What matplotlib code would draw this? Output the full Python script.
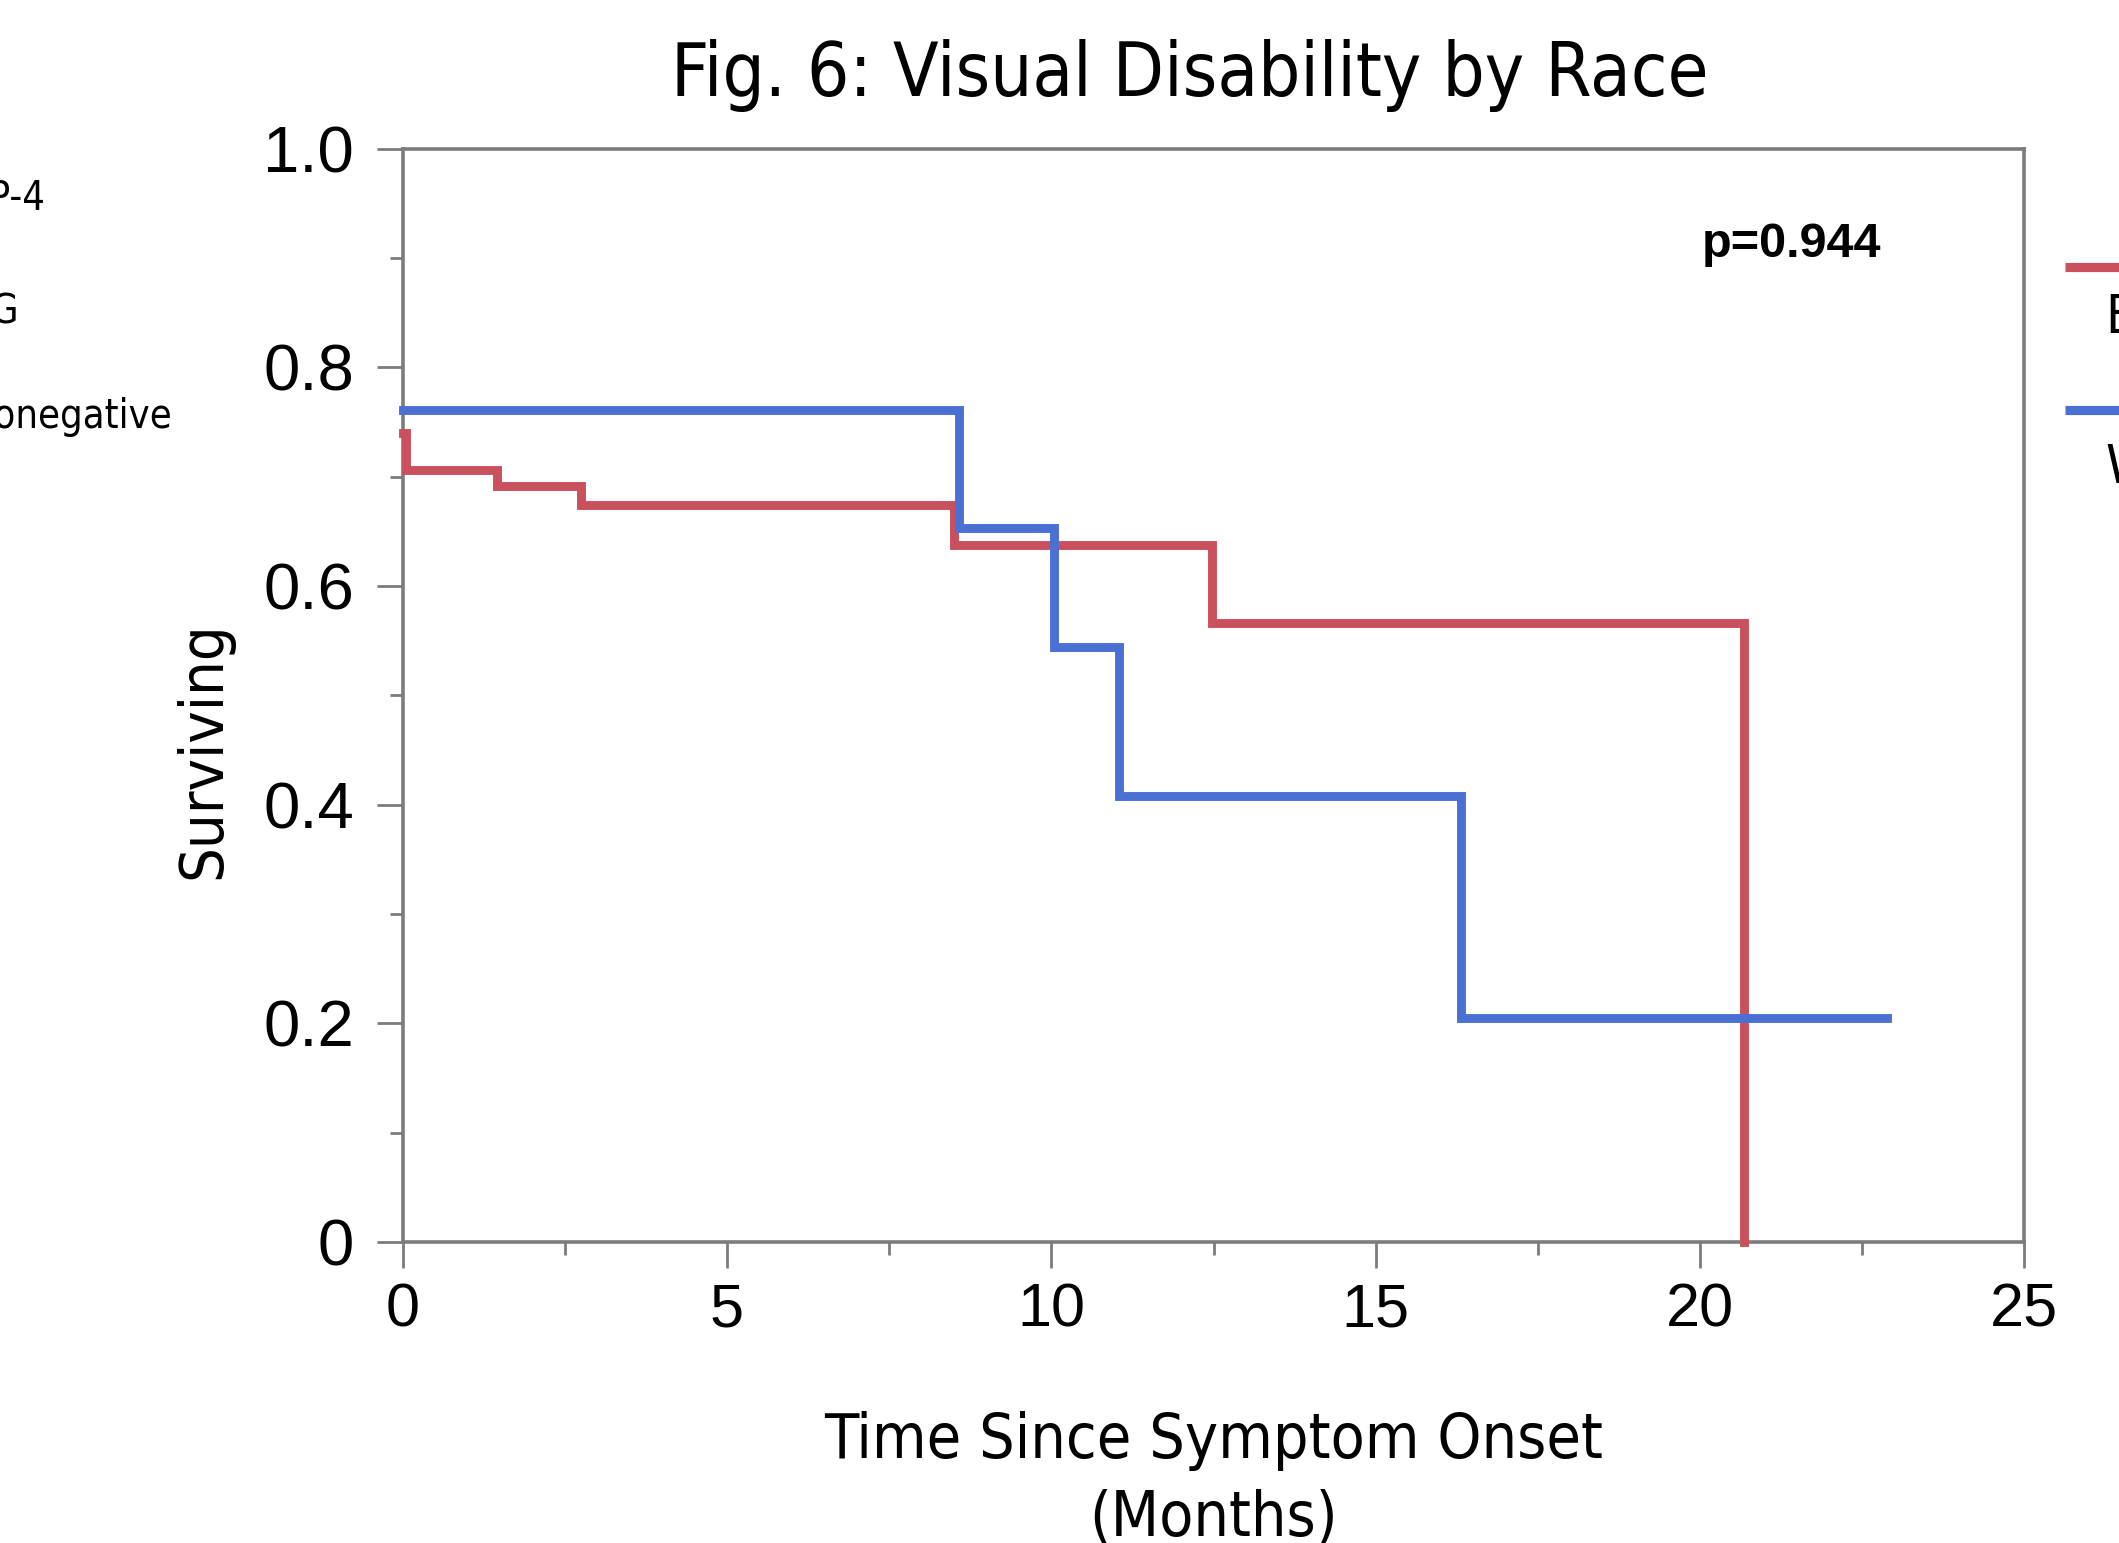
import os
import matplotlib
matplotlib.use('Agg')
import matplotlib.pyplot as plt
from matplotlib import font_manager as fm
from matplotlib.lines import Line2D

# ---------------- data ----------------
black_time = [0.0, 0.05, 1.46, 2.75, 8.5, 12.48, 20.67]
black_surv = [0.74, 0.706, 0.691, 0.674, 0.637, 0.566, 0.0]
white_time = [0.0, 8.58, 10.04, 11.04, 16.31, 22.88]
white_surv = [0.761, 0.653, 0.544, 0.408, 0.205, 0.205]
group_labels = ['Black', 'White']
other_labels = ['AQP-4', 'MOG', 'Seronegative']
x_ticks = [0, 5, 10, 15, 20, 25]
x_minor = [2.5, 7.5, 12.5, 17.5, 22.5]
x_ticklabels = ['0', '5', '10', '15', '20', '25']
y_ticks = [0, 0.2, 0.4, 0.6, 0.8, 1.0]
y_minor = [0.1, 0.3, 0.5, 0.7, 0.9]
y_ticklabels = ['0', '0.2', '0.4', '0.6', '0.8', '1.0']
title_text = 'Fig. 6: Visual Disability by Race'
xlabel_text = 'Time Since Symptom Onset\n(Months)'
ylabel_text = 'Surviving'
p_text = 'p=0.944'

# ---------------- styling ----------------
W, H, DPI = 2119, 1543, 100
RED = '#C9505C'
BLUE = '#4A70D4'
GREY = '#7c7c7c'

_cond = [f for f in fm.findSystemFonts()
         if os.path.basename(f).lower() == 'dejavusanscondensed.ttf']


def hum(size):
    if _cond:
        return fm.FontProperties(fname=_cond[0], size=size)
    return fm.FontProperties(family='DejaVu Sans', size=size)


def fx(px):
    return px / W


def fy(py):
    return 1 - py / H


fig = plt.figure(figsize=(W / DPI, H / DPI), dpi=DPI)
fig.patch.set_facecolor('white')

L, R, T, B = 402.7, 2024.4, 148.6, 1241.9
ax = fig.add_axes([fx(L), fy(B), (R - L) / W, (B - T) / H])

ax.step(black_time, black_surv, where='post', color=RED, lw=6.4,
        solid_joinstyle='miter', clip_on=False, zorder=3)
ax.step(white_time, white_surv, where='post', color=BLUE, lw=6.4,
        solid_joinstyle='miter', clip_on=False, zorder=3)

ax.set_xlim(0, 25)
ax.set_ylim(0, 1.0)
ax.set_xticks(x_ticks)
ax.set_xticks(x_minor, minor=True)
ax.set_yticks(y_ticks)
ax.set_yticks(y_minor, minor=True)
ax.set_xticklabels(x_ticklabels,
                   fontdict={'family': 'Liberation Sans', 'size': 44})
ax.set_yticklabels(y_ticklabels,
                   fontdict={'family': 'Liberation Sans', 'size': 47})
ax.tick_params(which='major', length=19, width=2.0, color=GREY, direction='out')
ax.tick_params(which='minor', length=9.5, width=2.0, color=GREY, direction='out')
ax.tick_params(axis='x', which='major', pad=10)
ax.tick_params(axis='y', which='major', pad=16)
for lab in ax.get_yticklabels():
    lab.set_va('center_baseline')
for s in ax.spines.values():
    s.set_color(GREY)
    s.set_linewidth(2.6)

# title
ttl = ax.set_title(title_text, fontproperties=hum(50), x=(1190 - L) / (R - L),
                   y=(B - 96) / (B - T), va='baseline', ha='center', pad=0)

# axis labels (va='baseline' on multi-line text anchors the last line)
xl = ax.set_xlabel(xlabel_text, fontproperties=hum(40), linespacing=1.3)
xl.set_va('baseline')
ax.xaxis.set_label_coords((1214 - L) / (R - L), (B - 1536) / (B - T))
yl = ax.set_ylabel(ylabel_text, fontproperties=hum(45))
yl.set_va('baseline')
ax.yaxis.set_label_coords((220 - L) / (R - L), (B - 750) / (B - T))

# p-value
ax.text(fx(1702), fy(257), p_text, transform=fig.transFigure,
        family='Liberation Sans', weight='bold', size=35,
        ha='left', va='baseline')

# partially visible legend on the right
for lab, col, ly, ty in zip(group_labels, [RED, BLUE], [267, 410], [333, 483]):
    fig.add_artist(Line2D([fx(2065), fx(2140)], [fy(ly), fy(ly)], color=col,
                          lw=6.6, solid_capstyle='butt', transform=fig.transFigure))
    fig.text(fx(2105), fy(ty), lab, fontproperties=hum(39), ha='left', va='baseline')

# partially visible text on the left
for lab, rx, by in zip(other_labels, [46, 19, 172], [210, 323, 428]):
    fig.text(fx(rx), fy(by), lab, fontproperties=hum(28.5), ha='right', va='baseline')

# ---- fit text sizes to measured extents ----
fig.canvas.draw()
r = fig.canvas.get_renderer()


def fit(t, target, horiz=True):
    bb = t.get_window_extent(r)
    cur = bb.width if horiz else bb.height
    t.set_fontsize(t.get_fontsize() * target / cur)


fit(ttl, 1039)
probe = fig.text(0, 0, xlabel_text.split('\n')[0], fontproperties=xl.get_fontproperties())
bb = probe.get_window_extent(r)
xl.set_fontsize(xl.get_fontsize() * 777 / bb.width)
probe.set_fontsize(xl.get_fontsize())
fit(yl, 258, horiz=False)

# line spacing so that the two xlabel baselines sit like the reference
fig.canvas.draw()
h1 = probe.get_window_extent(r).height
probe.set_text('x\ny')
probe.set_linespacing(1.0)
d1 = probe.get_window_extent(r).height - h1
probe.set_linespacing(2.0)
d2 = probe.get_window_extent(r).height - h1
a = d2 - d1
b = d1 - a
if a > 0:
    xl.set_linespacing((74 - b) / a * 1.06)
probe.remove()

fig.savefig('out.png', dpi=DPI, facecolor='white')
